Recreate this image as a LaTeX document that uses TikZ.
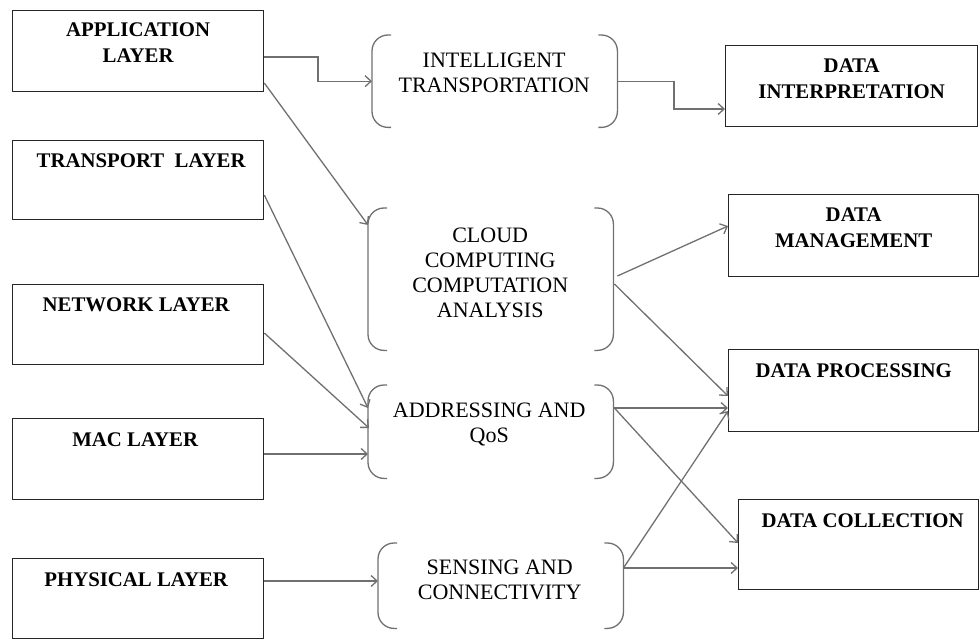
\documentclass[tikz,border=0pt]{standalone}
\usepackage{fontspec}
\setmainfont{Liberation Serif}
\usetikzlibrary{calc,arrows.meta}
\definecolor{lgray}{RGB}{112,112,112}
\begin{document}
\begin{tikzpicture}[x=1pt,y=-1pt,
  box/.style={draw=black!85, line width=1.3pt, rectangle, inner sep=0pt, anchor=north west},
  region/.style={rectangle, inner sep=0pt, anchor=north west},
  btext/.style={anchor=north, inner sep=0pt, align=center, font=\fontsize{20.8}{25.5}\selectfont\bfseries},
  ntext/.style={anchor=north, inner sep=0pt, align=center, font=\fontsize{22}{25}\selectfont},
  brk/.style={draw=lgray, line width=1.3pt, rounded corners=16pt},
  arr/.style={draw=lgray, line width=1.3pt, -{Straight Barb[length=6pt,width=11pt]}}
]
\useasboundingbox (0,0) rectangle (979,639);

% left boxes
\node[box, minimum width=251, minimum height=81] (app) at (12,10) {};
\node[box, minimum width=251, minimum height=79] (trans) at (12,140) {};
\node[box, minimum width=251, minimum height=80] (net) at (12,284) {};
\node[box, minimum width=251, minimum height=81] (mac) at (12,418) {};
\node[box, minimum width=251, minimum height=80] (phys) at (12,558) {};
\node[btext] (tapp) at ($(app.north)+(0,13)$) {APPLICATION\\LAYER};
\node[btext] (ttrans) at ($(trans.north)+(3,14)$) {TRANSPORT\ \ LAYER};
\node[btext] (tnet) at ($(net.north)+(-2,14)$) {NETWORK LAYER};
\node[btext] (tmac) at ($(mac.north)+(-3,15)$) {MAC LAYER};
\node[btext] (tphys) at ($(phys.north)+(-2,15)$) {PHYSICAL LAYER};

% right boxes
\node[box, minimum width=252, minimum height=81] (interp) at (725,45) {};
\node[box, minimum width=250, minimum height=82] (mgmt) at (728,194) {};
\node[box, minimum width=250, minimum height=82] (proc) at (728,349) {};
\node[box, minimum width=240, minimum height=90] (coll) at (738,499) {};
\node[btext] (tinterp) at ($(interp.north)+(0,14)$) {DATA\\INTERPRETATION};
\node[btext] (tmgmt) at ($(mgmt.north)+(0,14)$) {DATA\\MANAGEMENT};
\node[btext] (tproc) at ($(proc.north)+(0,15)$) {DATA PROCESSING};
\node[btext] (tcoll) at ($(coll.north)+(4,15)$) {DATA COLLECTION};

% middle bracket regions
\node[region, minimum width=245, minimum height=92] (intel) at (372,35) {};
\node[region, minimum width=245, minimum height=142] (cloud) at (368,208) {};
\node[region, minimum width=245, minimum height=93] (addr) at (368,385) {};
\node[region, minimum width=245, minimum height=85] (sens) at (378,543) {};
\foreach \r in {intel,cloud,addr,sens}{
  \draw[brk] ($(\r.north west)+(19,0)$) -- (\r.north west) -- (\r.south west) -- ($(\r.south west)+(19,0)$);
  \draw[brk] ($(\r.north east)+(-19,0)$) -- (\r.north east) -- (\r.south east) -- ($(\r.south east)+(-19,0)$);
}
\node[ntext] (tintel) at ($(intel.north)+(-0.5,17.5)$) {INTELLIGENT\\TRANSPORTATION};
\node[ntext] (tcloud) at ($(cloud.north)+(-0.5,19.5)$) {CLOUD\\COMPUTING\\COMPUTATION\\ANALYSIS};
\node[ntext] (taddr) at ($(addr.north)+(-1.5,17.5)$) {ADDRESSING AND\\QoS};
\node[ntext] (tsens) at ($(sens.north)+(-1,16.5)$) {SENSING AND\\CONNECTIVITY};

% connectors
\draw[arr] ($(app.north east)+(0,47)$) -| ($(intel.west)+(-54,0)$) -- (intel.west);
\draw[arr] ($(app.north east)+(0,73)$) -- ($(cloud.north west)+(0,17)$);
\draw[arr] ($(trans.north east)+(0,55)$) -- ($(addr.north west)+(0,23)$);
\draw[arr] ($(net.north east)+(0,49)$) -- ($(addr.north west)+(1,43)$);
\draw[arr] ($(mac.north east)+(0,36)$) coordinate (m1) -- (m1 -| addr.west);
\draw[arr] ($(phys.north east)+(0,23)$) coordinate (p1) -- (p1 -| sens.west);
\draw[arr] (intel.east) -| ($(interp.north west)+(-51,64)$) -- ($(interp.north west)+(0,64)$);
\draw[arr] ($(cloud.north east)+(4,68)$) -- ($(mgmt.north west)+(0,32)$);
\draw[arr] ($(cloud.north east)+(1,76)$) -- ($(proc.north west)+(0,47)$);
\draw[arr] ($(addr.north east)+(1,23)$) coordinate (a1) -- (a1 -| proc.west);
\draw[arr] (a1) -- ($(coll.north west)+(0,44)$);
\draw[arr] ($(sens.north east)+(0,25)$) coordinate (s1) -- ($(proc.north west)+(0,62)$);
\draw[arr] (s1) -- (s1 -| coll.west);
\end{tikzpicture}
\end{document}
